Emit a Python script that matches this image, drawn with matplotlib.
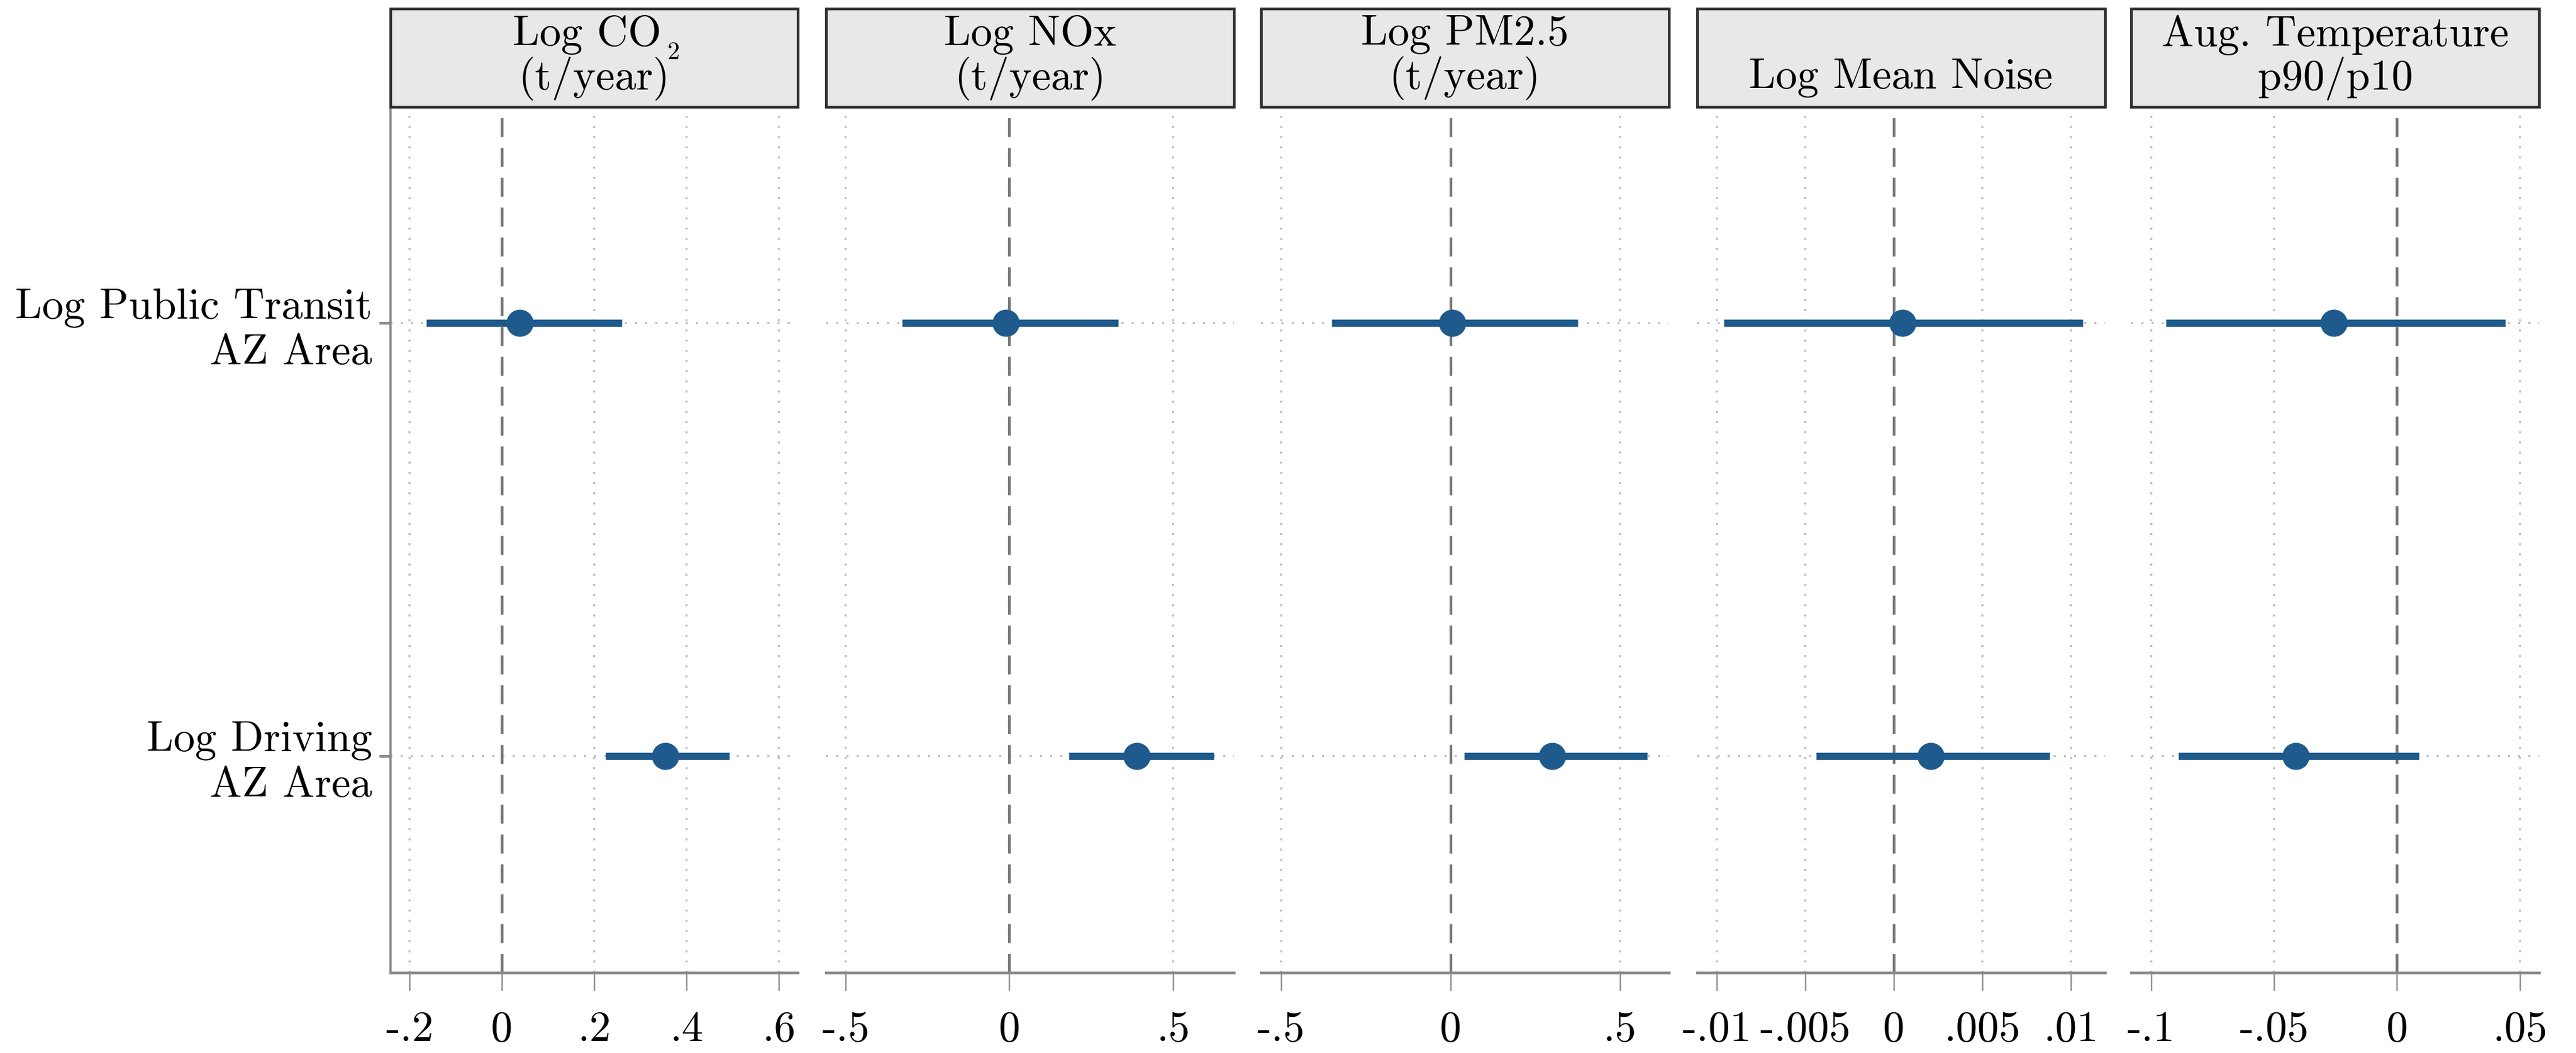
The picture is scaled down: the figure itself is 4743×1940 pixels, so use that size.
import numpy as np
import matplotlib
matplotlib.use("Agg")
import matplotlib.pyplot as plt

# ---- data ----
rows = ["Log Driving\nAZ Area", "Log Public Transit\nAZ Area"]
titles = ["Log CO \n(t/year)", "Log NOx\n(t/year)", "Log PM2.5\n(t/year)",
          " \nLog Mean Noise", "Aug. Temperature\np90/p10"]

# point estimates [driving, transit]
est_co2 = [0.354, 0.039]
est_nox = [0.388, -0.01]
est_pm25 = [0.30, 0.005]
est_noise = [0.0021, 0.0005]
est_temp = [-0.0412, -0.0258]

# confidence intervals (low, high) [driving, transit]
lo_co2 = [0.225, -0.164]
hi_co2 = [0.493, 0.26]
lo_nox = [0.181, -0.327]
hi_nox = [0.624, 0.332]
lo_pm25 = [0.04, -0.35]
hi_pm25 = [0.58, 0.375]
lo_noise = [-0.0044, -0.0096]
hi_noise = [0.0088, 0.0107]
lo_temp = [-0.0889, -0.094]
hi_temp = [0.009, 0.044]

ticks_co2 = [-0.2, 0, 0.2, 0.4, 0.6]
ticklab_co2 = ["-.2", "0", ".2", ".4", ".6"]
ticks_nox = [-0.5, 0, 0.5]
ticklab_nox = ["-.5", "0", ".5"]
ticks_pm25 = [-0.5, 0, 0.5]
ticklab_pm25 = ["-.5", "0", ".5"]
ticks_noise = [-0.01, -0.005, 0, 0.005, 0.01]
ticklab_noise = ["-.01", "-.005", "0", ".005", ".01"]
ticks_temp = [-0.1, -0.05, 0, 0.05]
ticklab_temp = ["-.1", "-.05", "0", ".05"]

xlims = [(-0.242, 0.642), (-0.559, 0.685), (-0.559, 0.644), (-0.01112, 0.01193), (-0.108, 0.0578)]

panels = [
    (est_co2, lo_co2, hi_co2, ticks_co2, ticklab_co2),
    (est_nox, lo_nox, hi_nox, ticks_nox, ticklab_nox),
    (est_pm25, lo_pm25, hi_pm25, ticks_pm25, ticklab_pm25),
    (est_noise, lo_noise, hi_noise, ticks_noise, ticklab_noise),
    (est_temp, lo_temp, hi_temp, ticks_temp, ticklab_temp),
]

plt.rcParams['font.family'] = ['cmr10', 'DejaVu Serif']
plt.rcParams['axes.unicode_minus'] = False
FS = 19
col = '#1f5a8c'
gray = '#8a8a8a'

fig = plt.figure(figsize=(4743 / 300, 1940 / 300), dpi=300)

lefts = [0.1515, 0.3207, 0.4895, 0.6588, 0.8274]
width = 0.1583
bottom = 0.0764
top = 0.8986
htop = 0.992
ypos = np.array([1, 2])

for i, (est, lo, hi, ticks, labs) in enumerate(panels):
    ax = fig.add_axes([lefts[i], bottom, width, top - bottom])
    # grid
    for t in ticks:
        if t != 0:
            ax.axvline(t, color='#bdbdbd', lw=0.9, ls=(0, (1, 4)), zorder=0)
    for y in ypos:
        ax.axhline(y, color='#bdbdbd', lw=0.9, ls=(0, (1, 4)), zorder=0)
    ax.axvline(0, color='#7a7a7a', lw=1.2, ls=(0, (7, 4)), zorder=1)

    ax.hlines(ypos, lo, hi, color=col, lw=3.2, zorder=2)
    ax.plot(est, ypos, 'o', color=col, ms=11, zorder=3)

    ax.set_xlim(*xlims[i])
    ax.set_ylim(0.5, 2.5)
    ax.set_xticks(ticks)
    ax.set_xticklabels(labs, fontsize=FS)
    ax.tick_params(axis='x', direction='out', length=8, width=0.6, color=gray, pad=9)

    for s in ['top', 'right']:
        ax.spines[s].set_visible(False)
    ax.spines['bottom'].set_color(gray)
    ax.spines['bottom'].set_linewidth(1.2)
    if i == 0:
        ax.spines['left'].set_color(gray)
        ax.spines['left'].set_linewidth(1.0)
        ax.set_yticks(ypos)
        ax.set_yticklabels(rows, fontsize=FS, ha='right', multialignment='right')
        ax.tick_params(axis='y', direction='out', length=5, width=1.2, color=gray, pad=3)
    else:
        ax.spines['left'].set_visible(False)
        ax.set_yticks([])

    # header box
    hx = fig.add_axes([lefts[i], top, width, htop - top])
    hx.set_facecolor('#e8e8e8')
    hx.set_xticks([])
    hx.set_yticks([])
    for s in hx.spines.values():
        s.set_color('#333333')
        s.set_linewidth(1.2)
    hx.text(0.5, 0.5, titles[i], ha='center', va='center', fontsize=FS,
            multialignment='center', linespacing=1.05, transform=hx.transAxes)
    if i == 0:
        hx.text(0.695, 0.55, "2", ha='center', va='center', fontsize=11,
                transform=hx.transAxes)

fig.savefig("out.png", dpi=300)
